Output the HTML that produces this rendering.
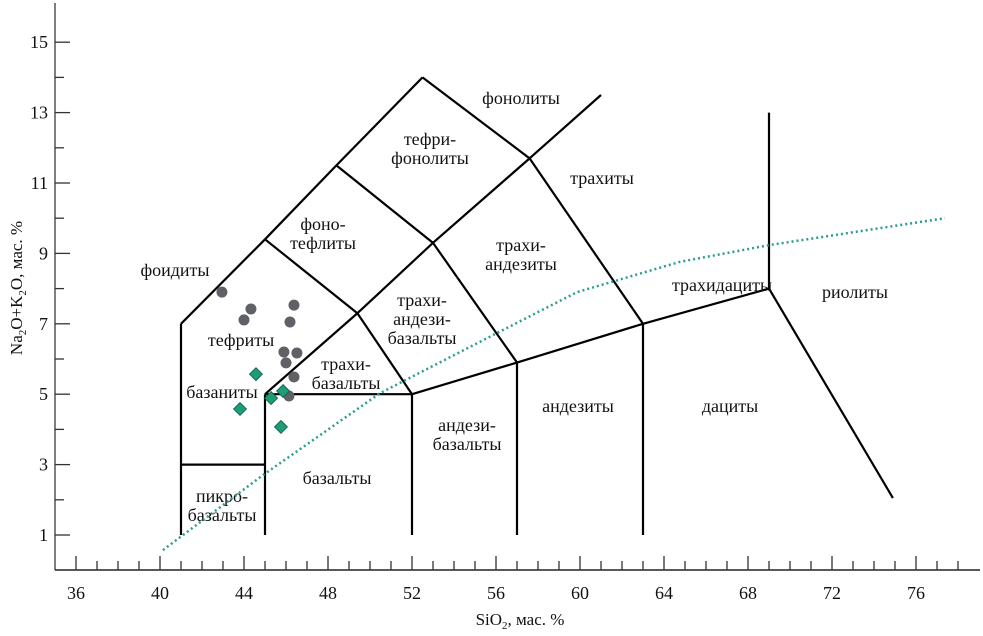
<!DOCTYPE html>
<html><head><meta charset="utf-8"><style>
body{margin:0;background:#fff}
svg{display:block}
text{font-family:"Liberation Serif",serif;fill:#111}
</style></head><body>
<svg id="chart" width="983" height="636" viewBox="0 0 983 636" xmlns="http://www.w3.org/2000/svg">
<g id="axes"></g>
<g id="fields"></g>
<g id="labels"></g>
<g id="series"></g>
</svg>
<script>
const xTickLabels=[36,40,44,48,52,56,60,64,68,72,76];
const yTickLabels=[1,3,5,7,9,11,13,15];
const circleSiO2=[42.95,44.33,44.0,46.38,46.19,45.9,46.52,46.0,46.38,46.14];
const circleAlk=[7.9,7.42,7.11,7.53,7.05,6.2,6.17,5.89,5.49,4.95];
const diamondSiO2=[44.57,43.81,45.29,45.86,45.76];
const diamondAlk=[5.57,4.58,4.89,5.09,4.07];
const dividerSiO2=[40.14,44.9,50.48,55.86,59.86,64.76,69.05,77.38];
const dividerAlk=[0.57,2.7,5.03,6.68,7.9,8.76,9.24,10.0];
const segments=[[41,1,41,7],[41,3,45,3],[45,1,45,5],[41,7,45,9.4],[45,9.4,48.4,11.5],[48.4,11.5,52.5,14],[52.5,14,57.6,11.7],[57.6,11.7,61,13.5],[57.6,11.7,63,7],[45,9.4,49.4,7.3],[49.4,7.3,52,5],[45,5,49.4,7.3],[45,5,52,5],[52,1,52,5],[52,5,57,5.9],[57,1,57,5.9],[57,5.9,63,7],[63,1,63,7],[63,7,69,8],[69,8,69,13],[69,8,74.9,2.05],[48.4,11.5,53,9.3],[53,9.3,57.6,11.7],[49.4,7.3,53,9.3],[53,9.3,57,5.9]];
const fieldLabels=[["фоидиты",175,270],["тефриты",241,340],["базаниты",222,392],["пикро-|базальты",222,496],["базальты",337,478],["фоно-|тефлиты",323,224],["тефри-|фонолиты",430,139],["фонолиты",521,98],["трахиты",602,178],["трахи-|андезиты",521,245],["трахи-|андези-|базальты",422,300],["трахи-|базальты",346,364],["андези-|базальты",467,425],["андезиты",578,406],["дациты",730,406],["трахидациты",722,285],["риолиты",855,292]];
const NS="http://www.w3.org/2000/svg";
const X=v=>160+(v-40)*21, Y=v=>535-(v-1)*35.2;
function mk(p,t,a){const e=document.createElementNS(NS,t);for(const k in a)e.setAttribute(k,a[k]);p.appendChild(e);return e;}
const ax=document.getElementById('axes');
let l=mk(ax,'line',{x1:55,y1:3,x2:55,y2:570,stroke:'#555','stroke-width':1.5});


l=mk(ax,'line',{x1:55,y1:570,x2:980,y2:570,stroke:'#222','stroke-width':1.5});


for(let v=36;v<=78;v++){const maj=xTickLabels.includes(v);const t=mk(ax,'line',{x1:X(v),x2:X(v),y1:570,y2:maj?556:561,stroke:'#333','stroke-width':1.3});

}
xTickLabels.forEach(v=>{const t=mk(ax,'text',{x:X(v),y:599,'text-anchor':'middle','font-size':18});t.textContent=v;

});
for(let v=1;v<=15;v++){const maj=yTickLabels.includes(v);const t=mk(ax,'line',{x1:55,x2:maj?70:64,y1:Y(v),y2:Y(v),stroke:'#333','stroke-width':1.3});

}
yTickLabels.forEach(v=>{const t=mk(ax,'text',{x:48,y:Y(v)+6,'text-anchor':'end','font-size':18});t.textContent=v;

});
let xt=mk(ax,'text',{x:520,y:625,'text-anchor':'middle','font-size':17});
xt.innerHTML='SiO<tspan font-size="11" dy="4">2</tspan><tspan dy="-4">, мас. %</tspan>';


let yt=mk(ax,'text',{x:0,y:0,'text-anchor':'middle','font-size':17,transform:'translate(22,288) rotate(-90)'});
yt.innerHTML='Na<tspan font-size="11" dy="4">2</tspan><tspan dy="-4">O+K</tspan><tspan font-size="11" dy="4">2</tspan><tspan dy="-4">O, мас. %</tspan>';


const fg=document.getElementById('fields');
segments.forEach(s=>{const e=mk(fg,'line',{x1:X(s[0]),y1:Y(s[1]),x2:X(s[2]),y2:Y(s[3]),stroke:'#000','stroke-width':2.2});

});
const lg=document.getElementById('labels');
fieldLabels.forEach(f=>{const lines=f[0].split('|');const t=mk(lg,'text',{x:f[1],y:f[2]+6,'text-anchor':'middle','font-size':18});
lines.forEach((s,i)=>{const ts=mk(t,'tspan',{x:f[1],dy:i?19:0});ts.textContent=s;});

});
const sg=document.getElementById('series');
const pts=dividerSiO2.map((v,i)=>X(v)+','+Y(dividerAlk[i])).join(' ');
const pl=mk(sg,'polyline',{points:pts,fill:'none',stroke:'#2a9d8f','stroke-width':2.5,'stroke-dasharray':'2 3','stroke-linejoin':'round'});


circleSiO2.forEach((v,i)=>{const c=mk(sg,'circle',{cx:X(v),cy:Y(circleAlk[i]),r:5.5,fill:'#5f6166'});

});
diamondSiO2.forEach((v,i)=>{const x=X(v),y=Y(diamondAlk[i]);const d=mk(sg,'polygon',{points:`${x},${y-6.5} ${x+6.5},${y} ${x},${y+6.5} ${x-6.5},${y}`,fill:'#1f9b78',stroke:'#0d5e48','stroke-width':0.8});

});
</script>
</body></html>
